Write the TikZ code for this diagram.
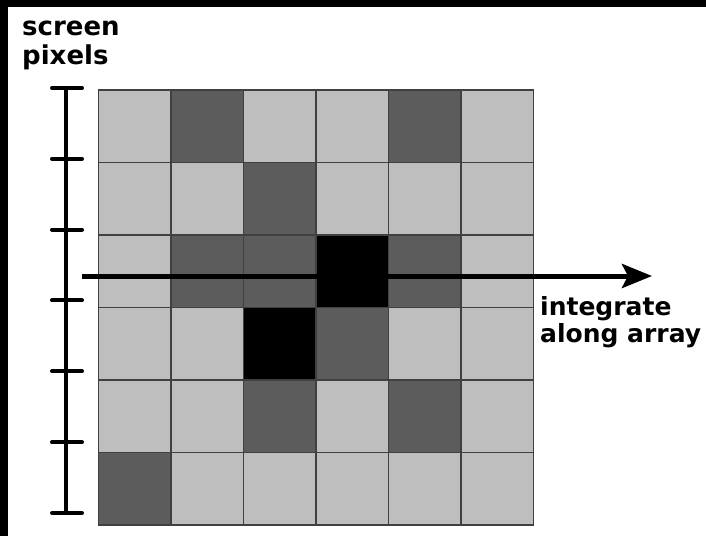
\documentclass[tikz,border=0pt]{standalone}
\usepackage{fontspec}
\newfontfamily\labelfont{DejaVu Sans}
\usetikzlibrary{arrows.meta,positioning,calc}
\definecolor{cellL}{gray}{0.745}
\definecolor{cellD}{gray}{0.36}
\definecolor{cellB}{gray}{0}

\begin{document}
\begin{tikzpicture}[x=1pt, y=-1pt,
    cell/.style={draw=black!75, line width=1.3pt},
    lbl/.style={font=\labelfont\bfseries\fontsize{26}{28.5}\selectfont,
                align=left, inner sep=0pt},
    ruler/.style={line width=4pt, line cap=round},
    arrow/.style={-{Stealth[length=30pt, width=24pt, inset=6pt]},
                  line width=5pt}
]
% frame
\fill[black] (0,0) rectangle (706,536);
\fill[white] (8,7) rectangle (706,536);
\useasboundingbox (0,0) rectangle (706,536);

% pixel array
\foreach \cols [count=\r from 0] in {{L,D,L,L,D,L},{L,L,D,L,L,L},
    {L,D,D,B,D,L},{L,L,B,D,L,L},{L,L,D,L,D,L},{D,L,L,L,L,L}}
  \foreach \c [count=\k from 0] in \cols
    \draw[cell, fill=cell\c] ({98.5+72.5*\k},{90+72.5*\r})
        rectangle ++(72.5,72.5);

% screen pixel ruler
\coordinate (rulertop) at (66,88);
\coordinate (rulerbot) at (66,513);
\draw[ruler] (rulertop) -- (rulerbot);
\foreach \t in {0,...,6}
  \draw[ruler] ($(rulertop)+(-14,70.83*\t)$) -- ($(rulertop)+(16,70.83*\t)$);

% integration direction
\coordinate (arrstart) at (82,276);
\coordinate (arrend) at (652,276);
\draw[arrow] (arrstart) -- (arrend);

\node[lbl, anchor=north west] (screen) at (22,21) {screen\\pixels};
\node[lbl, anchor=north west, font=\labelfont\bfseries\fontsize{25}{27.5}\selectfont]
  (integ) at (540,296) {integrate\\along array};
\end{tikzpicture}
\end{document}
